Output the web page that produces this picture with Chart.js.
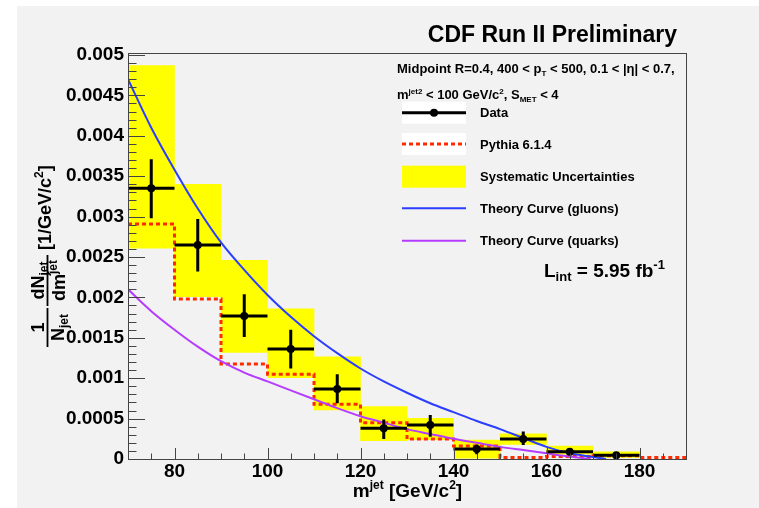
<!DOCTYPE html>
<html><head><meta charset="utf-8">
<script src="https://cdn.jsdelivr.net/npm/chart.js@4/dist/chart.umd.min.js"></script>
<style>html,body{margin:0;padding:0;background:#fff}canvas{display:block}</style>
</head><body>
<canvas id="c" width="759" height="508"></canvas>
<script>
// ---- data ----
const binCenters = [75, 85, 95, 105, 115, 125, 135, 145, 155, 165, 175];
const binHalfWidth = 5;
const dataVal   = [0.00335, 0.00265, 0.00177, 0.00136, 0.000866, 0.00038, 0.00042, 0.000124, 0.000248, 0.00009, 0.000046];
const dataErrHi = [0.00371, 0.00297, 0.00204, 0.00160, 0.00105, 0.00049, 0.000545, 0.00018, 0.00034, 0.00013, 0.00007];
const dataErrLo = [0.00298, 0.00232, 0.00151, 0.00112, 0.00069, 0.000248, 0.000276, 0.00006, 0.000173, 0.00005, 0.00002];
const sysLo = [0.00261, 0.00201, 0.00132, 0.001006, 0.000606, 0.000227, 0.00024, 0.00001, 0.00018, 0.00006, 0.00002];
const sysHi = [0.00487, 0.00340, 0.00246, 0.00186, 0.001266, 0.000648, 0.000504, 0.000235, 0.00031, 0.00016, 0.00009];
const pythiaEdges = [70, 80, 90, 100, 110, 120, 130, 140, 150, 160, 170, 180, 190];
const pythiaVal = [0.00291, 0.00198, 0.001176, 0.00105, 0.000677, 0.00045, 0.000248, 0.00016, 0.00002, 0.00003, 0.00004, 0.00002];
const gluonM = [70, 75, 80, 85, 90, 95, 100, 105, 110, 115, 120, 125, 130, 135, 140, 145, 150, 155, 160, 165, 170, 172.8];
const gluonV = [0.0047, 0.00410, 0.00358, 0.00310, 0.00268, 0.00234, 0.00203, 0.00176, 0.00152, 0.00131, 0.00112, 0.00096, 0.00082, 0.00069, 0.00058, 0.00047, 0.00037, 0.00026, 0.00015, 0.00007, 0.000025, 0];
const quarkM = [70, 75, 80, 85, 90, 95, 100, 105, 110, 115, 120, 125, 130, 135, 140, 145, 150, 155, 160, 165, 169.5];
const quarkV = [0.0021, 0.00183, 0.00160, 0.00139, 0.00121, 0.00107, 0.00096, 0.00085, 0.00074, 0.00063, 0.00053, 0.00045, 0.00037, 0.00031, 0.00025, 0.0002, 0.00015, 0.00011, 0.00007, 0.00003, 0];
const xTicks = [80, 100, 120, 140, 160, 180];
const yTicks = [0, 0.0005, 0.001, 0.0015, 0.002, 0.0025, 0.003, 0.0035, 0.004, 0.0045, 0.005];
const yTickLabels = ['0', '0.0005', '0.001', '0.0015', '0.002', '0.0025', '0.003', '0.0035', '0.004', '0.0045', '0.005'];
const legendLabels = ['Data', 'Pythia 6.1.4', 'Systematic Uncertainties', 'Theory Curve (gluons)', 'Theory Curve (quarks)'];

const FAM = '"Liberation Sans", Arial, Helvetica, sans-serif';
const C_RED = '#ff2a00', C_BLUE = '#2b3dff', C_PURPLE = '#b53cff', C_YEL = '#ffff00', C_AX = '#444';

function font(sz) { return 'bold ' + sz + 'px ' + FAM; }
// draw rich text: segs [{t, s, dy}]
function rich(ctx, segs, x, y, align) {
  let w = 0;
  segs.forEach(g => { ctx.font = font(g.s); g.w = ctx.measureText(g.t).width; w += g.w; });
  let cx = align === 'right' ? x - w : align === 'center' ? x - w / 2 : x;
  ctx.textBaseline = 'alphabetic'; ctx.textAlign = 'left';
  segs.forEach(g => { ctx.font = font(g.s); ctx.fillText(g.t, cx, y + (g.dy || 0)); cx += g.w; });
  return w;
}

const bgPlugin = {
  id: 'bg',
  beforeDraw(chart) {
    const ctx = chart.ctx;
    ctx.save();
    ctx.fillStyle = '#fff'; ctx.fillRect(0, 0, chart.width, chart.height);
    ctx.fillStyle = '#f2f2f2'; ctx.fillRect(17, 6, chart.width - 17, chart.height - 6);
    ctx.restore();
  }
};

const decoPlugin = {
  id: 'deco',
  afterDatasetsDraw(chart) {
    const ctx = chart.ctx, xs = chart.scales.x, ys = chart.scales.y, a = chart.chartArea;
    ctx.save();
    // error bars
    ctx.strokeStyle = '#000'; ctx.lineWidth = 3; ctx.lineCap = 'butt';
    binCenters.forEach((m, i) => {
      const px = xs.getPixelForValue(m), py = ys.getPixelForValue(dataVal[i]);
      ctx.beginPath();
      ctx.moveTo(xs.getPixelForValue(m - binHalfWidth), py);
      ctx.lineTo(xs.getPixelForValue(m + binHalfWidth), py);
      ctx.moveTo(px, ys.getPixelForValue(dataErrHi[i]));
      ctx.lineTo(px, ys.getPixelForValue(dataErrLo[i]));
      ctx.stroke();
    });
    // frame
    ctx.strokeStyle = C_AX; ctx.lineWidth = 1;
    ctx.strokeRect(Math.round(a.left) + 0.5, Math.round(a.top) + 0.5, Math.round(a.right - a.left), Math.round(a.bottom - a.top));
    // y ticks
    ctx.beginPath();
    for (let k = 0; k <= 50; k++) {
      const v = k * 0.0001;
      const py = Math.round(ys.getPixelForValue(v)) + 0.5;
      const len = (k % 5 === 0) ? 17 : 8.5;
      ctx.moveTo(a.left, py); ctx.lineTo(a.left + len, py);
    }
    // x ticks
    for (let m = 70; m <= 190; m += 5) {
      const px = Math.round(xs.getPixelForValue(m)) + 0.5;
      const len = (m % 20 === 0) ? 11 : 5.5;
      ctx.moveTo(px, a.bottom); ctx.lineTo(px, a.bottom - len);
    }
    ctx.stroke();

    ctx.fillStyle = '#000';
    // title
    rich(ctx, [{t: 'CDF Run II Preliminary', s: 23}], 677, 42, 'right');
    // legend header
    rich(ctx, [{t: 'Midpoint R=0.4, 400 < p', s: 13}, {t: 'T', s: 8, dy: 3}, {t: ' < 500, 0.1 < |\u03b7| < 0.7,', s: 13}], 397, 73, 'left');
    rich(ctx, [{t: 'm', s: 13}, {t: 'jet2', s: 8, dy: -5}, {t: ' < 100 GeV/c', s: 13}, {t: '2', s: 8, dy: -5}, {t: ', S', s: 13}, {t: 'MET', s: 8, dy: 3}, {t: ' < 4', s: 13}], 397, 99, 'left');
    // legend entries
    const lx0 = 402, lx1 = 466, tx = 480, rowY = [112.7, 144, 176.7, 208.3, 240.7];
    ctx.fillStyle = '#fff';
    ctx.fillRect(lx0, rowY[0] - 11, lx1 - lx0, 22);
    ctx.fillRect(lx0, rowY[1] - 11, lx1 - lx0, 22);
    ctx.fillStyle = C_YEL;
    ctx.fillRect(lx0, rowY[2] - 11, lx1 - lx0, 22);
    ctx.lineWidth = 3; ctx.strokeStyle = '#000';
    ctx.beginPath(); ctx.moveTo(lx0, rowY[0]); ctx.lineTo(lx1, rowY[0]); ctx.stroke();
    ctx.fillStyle = '#000'; ctx.beginPath(); ctx.arc((lx0 + lx1) / 2, rowY[0], 4, 0, Math.PI * 2); ctx.fill();
    ctx.strokeStyle = C_RED; ctx.setLineDash([4, 3]);
    ctx.beginPath(); ctx.moveTo(lx0, rowY[1]); ctx.lineTo(lx1, rowY[1]); ctx.stroke();
    ctx.setLineDash([]); ctx.lineWidth = 2;
    ctx.strokeStyle = C_BLUE; ctx.beginPath(); ctx.moveTo(lx0, rowY[3]); ctx.lineTo(lx1, rowY[3]); ctx.stroke();
    ctx.strokeStyle = C_PURPLE; ctx.beginPath(); ctx.moveTo(lx0, rowY[4]); ctx.lineTo(lx1, rowY[4]); ctx.stroke();
    ctx.fillStyle = '#000';
    legendLabels.forEach((l, i) => rich(ctx, [{t: l, s: 13}], tx, rowY[i] + 4.7, 'left'));
    // luminosity
    rich(ctx, [{t: 'L', s: 19}, {t: 'int', s: 13, dy: 4}, {t: ' = 5.95 fb', s: 19}, {t: '-1', s: 13, dy: -8}], 544, 277, 'left');
    // x title
    rich(ctx, [{t: 'm', s: 19}, {t: 'jet', s: 12, dy: -8}, {t: ' [GeV/c', s: 19}, {t: '2', s: 12, dy: -8}, {t: ']', s: 19}], 407.5, 497, 'center');
    // y title (rotated)
    ctx.translate(47.5, 347); ctx.rotate(-Math.PI / 2);
    ctx.strokeStyle = '#000'; ctx.lineWidth = 1.8;
    ctx.beginPath(); ctx.moveTo(0, 0); ctx.lineTo(39, 0); ctx.moveTo(41, 0); ctx.lineTo(92, 0); ctx.stroke();
    rich(ctx, [{t: '1', s: 18}], 19.5, -4, 'center');
    rich(ctx, [{t: 'N', s: 18}, {t: 'jet', s: 12, dy: 4}], 19.5, 16, 'center');
    rich(ctx, [{t: 'dN', s: 18}, {t: 'jet', s: 12, dy: 4}], 66.5, -4, 'center');
    rich(ctx, [{t: 'dm', s: 18}, {t: 'jet', s: 12, dy: -8}], 66.5, 17, 'center');
    rich(ctx, [{t: '[1/GeV/c', s: 18}, {t: '2', s: 12, dy: -8}, {t: ']', s: 18}], 97, 3.5, 'left');
    ctx.restore();
  }
};

const sysBars = binCenters.map((m, i) => ({x: m, y: [sysLo[i], sysHi[i]]}));
const pythiaPts = pythiaEdges.map((e, i) => ({x: e, y: pythiaVal[Math.min(i, pythiaVal.length - 1)]}));
const dataPts = binCenters.map((m, i) => ({x: m, y: dataVal[i]}));
const gluonPts = gluonM.map((m, i) => ({x: m, y: gluonV[i]}));
const quarkPts = quarkM.map((m, i) => ({x: m, y: quarkV[i]}));

new Chart(document.getElementById('c'), {
  type: 'scatter',
  data: {
    datasets: [
      {type: 'scatter', label: 'Data', data: dataPts, pointRadius: 4, pointBackgroundColor: '#000', pointBorderWidth: 0, showLine: false},
      {type: 'line', label: 'gluons', data: gluonPts, borderColor: C_BLUE, borderWidth: 2, pointRadius: 0, cubicInterpolationMode: 'monotone', fill: false},
      {type: 'line', label: 'quarks', data: quarkPts, borderColor: C_PURPLE, borderWidth: 2, pointRadius: 0, cubicInterpolationMode: 'monotone', fill: false},
      {type: 'line', label: 'Pythia', data: pythiaPts, borderColor: C_RED, borderWidth: 3, borderDash: [4, 3], pointRadius: 0, stepped: true, fill: false},
      {type: 'bar', label: 'Sys', data: sysBars, backgroundColor: C_YEL, borderWidth: 0, barPercentage: 1, categoryPercentage: 1}
    ]
  },
  options: {
    responsive: false, animation: false, devicePixelRatio: 1,
    layout: {padding: {left: 0, right: 73, top: 53, bottom: 0}},
    plugins: {legend: {display: false}, tooltip: {enabled: false}, title: {display: false}},
    scales: {
      x: {
        type: 'linear', min: 70, max: 190, offset: false,
        grid: {display: false, drawTicks: false}, border: {display: false},
        afterBuildTicks: s => { s.ticks = xTicks.map(v => ({value: v})); },
        afterFit: s => { s.height = 49; },
        ticks: {autoSkip: false, maxRotation: 0, padding: 1, color: '#000', font: {family: FAM, size: 19, weight: 'bold'}, callback: v => String(v)}
      },
      y: {
        type: 'linear', min: 0, max: 0.005025,
        grid: {display: false, drawTicks: false}, border: {display: false},
        afterBuildTicks: s => { s.ticks = yTicks.map(v => ({value: v})); },
        afterFit: s => { s.width = 128; },
        ticks: {autoSkip: false, padding: 4, color: '#000', font: {family: FAM, size: 19, weight: 'bold'}, callback: (v, i) => yTickLabels[i]}
      }
    }
  },
  plugins: [bgPlugin, decoPlugin]
});
</script>
</body></html>
